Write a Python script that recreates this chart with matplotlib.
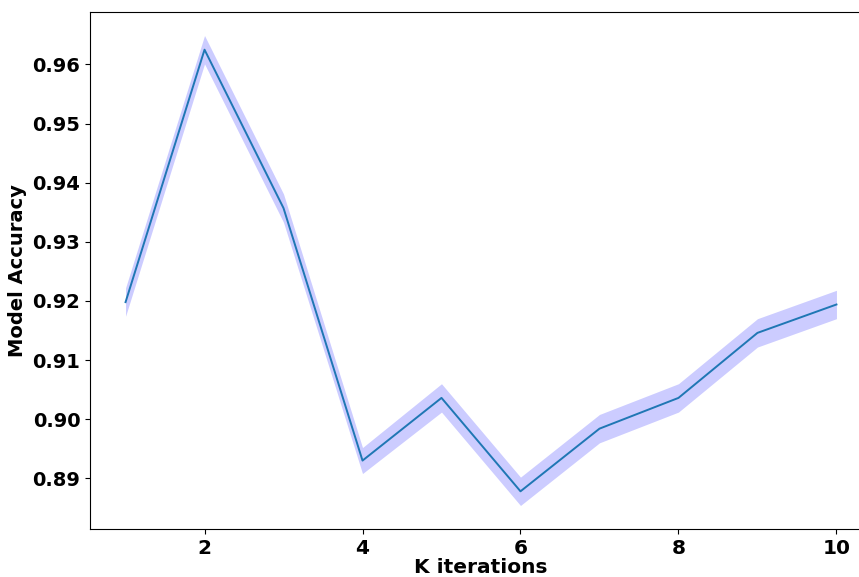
import numpy as np
import matplotlib
matplotlib.use('Agg')
import matplotlib.pyplot as plt

# K iterations vs model accuracy (mean +- spread)
k_iters = [1, 2, 3, 4, 5, 6, 7, 8, 9, 10]
acc_mean = [0.9198, 0.9625, 0.9357, 0.8930, 0.9036, 0.8878, 0.8984, 0.9036, 0.9146, 0.9194]
acc_err = [0.0024, 0.0024, 0.0024, 0.0022, 0.0024, 0.0024, 0.0024, 0.0024, 0.0024, 0.0024]

k = np.array(k_iters)
m = np.array(acc_mean)
e = np.array(acc_err)

fig = plt.figure(figsize=(8.59, 5.77), dpi=100)
ax = fig.add_axes([90/859, 48/577, 782/859, 517/577])

ax.fill_between(k, m - e, m + e, color='blue', alpha=0.2, linewidth=0)
ax.plot(k, m, color='tab:blue', linewidth=1.4)

yt = [0.89, 0.90, 0.91, 0.92, 0.93, 0.94, 0.95, 0.96]
ax.set_xticks([2, 4, 6, 8, 10])
ax.set_yticks(yt)
ax.set_yticklabels(['%.2f' % v for v in yt])

for lab in ax.get_yticklabels():
    lab.set_fontweight('bold')
    lab.set_fontsize(14)
    lab.set_family('DejaVu Sans')
for lab in ax.get_xticklabels():
    lab.set_fontweight('bold')
    lab.set_fontsize(14.5)
    lab.set_family('Liberation Sans Narrow')

ax.set_xlabel('K iterations', fontsize=14.5, fontweight='bold', family='Liberation Sans Narrow', labelpad=0)
ax.set_ylabel('Model Accuracy', fontsize=14, fontweight='bold', family='DejaVu Sans')

fig.savefig('out.png', dpi=100)
